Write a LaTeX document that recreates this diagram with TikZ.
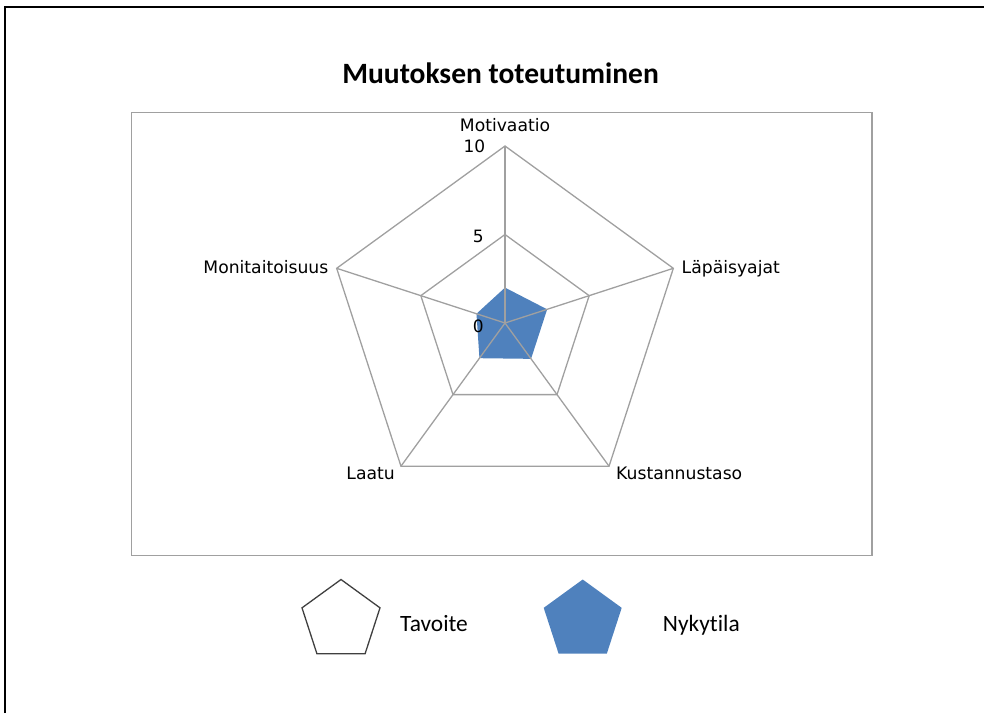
\documentclass[tikz,border=0pt]{standalone}
\usepackage{fontspec}
\setmainfont{Carlito}[Ligatures=NoCommon]
\newfontfamily\axisfont{DejaVu Sans}
\usetikzlibrary{calc,shapes.geometric}
\definecolor{seriesblue}{HTML}{4F81BD}
\definecolor{gridgray}{HTML}{A0A0A0}
\definecolor{areagray}{HTML}{A0A0A0}
\definecolor{keyoutline}{HTML}{404040}
\begin{document}
\begin{tikzpicture}[x=1pt,y=-1pt,
  gridline/.style={draw=gridgray,line width=1.3pt,line join=miter},
  axislabel/.style={font=\axisfont\fontsize{17.2}{20}\selectfont,inner sep=0pt,text=black},
  ticklabel/.style={font=\axisfont\fontsize{17}{20}\selectfont,inner sep=0pt,anchor=east},
  charttitle/.style={font=\fontsize{29.5}{35}\selectfont\bfseries,inner sep=0pt,anchor=base},
  keytext/.style={font=\fontsize{23.4}{28}\selectfont,inner sep=0pt,anchor=base west},
  keyshape/.style={regular polygon,regular polygon sides=5,minimum size=82pt,inner sep=0pt}]
\useasboundingbox (0,0) rectangle (984,713);

% page frame and plot area
\draw[line width=1.6pt] (5,713) -- (5,7) -- (984,7);
\draw[areagray,line width=1.5pt] (131.5,112.5) rectangle (872,555.5);

% title
\node[charttitle] (title) at (500.5,83.3) {Muutoksen toteutuminen};

% radar geometry: centre, 10-ring and 5-ring vertices
\coordinate (c) at (505,323);
\foreach \ang/\id in {-90/mot,-18/lap,54/kus,126/laa,198/mon}{
  \coordinate (o\id) at ($(c)+(\ang:177)$);
  \coordinate (h\id) at ($(c)+(\ang:88.5)$);
}

% current state (Nykytila)
\fill[seriesblue] ($(c)+(-90:35.4)$) -- ($(c)+(-18:44.3)$) -- ($(c)+(54:44.3)$)
  -- ($(c)+(126:43.5)$) -- ($(c)+(198:30)$) -- cycle;

% grid rings and spokes
\draw[gridline] (omot) -- (olap) -- (okus) -- (olaa) -- (omon) -- cycle;
\draw[gridline] (hmot) -- (hlap) -- (hkus) -- (hlaa) -- (hmon) -- cycle;
\foreach \id in {mot,lap,kus,laa,mon}{
  \draw[gridline] (c) -- (o\id);
}

% category labels
\node[axislabel,anchor=base] (lmot) at (505,131.5) {Motivaatio};
\node[axislabel,anchor=base west] (llap) at (681.5,273.3) {Läpäisyajat};
\node[axislabel,anchor=base west] (lkus) at (616,479.3) {Kustannustaso};
\node[axislabel,anchor=base east] (llaa) at (395,479.3) {Laatu};
\node[axislabel,anchor=base east] (lmon) at (328.5,273.3) {Monitaitoisuus};

% scale labels
\node[ticklabel] (t10) at (485.5,146.7) {10};
\node[ticklabel] (t5) at (484,236.7) {5};
\node[ticklabel] (t0) at (484,326.7) {0};

% legend
\node[keyshape,draw=keyoutline,line width=1.3pt,fill=white] (keytav) at (341,620.5) {};
\node[keytext] (txttav) at (400,631.7) {Tavoite};
\node[keyshape,fill=seriesblue] (keynyk) at (582.7,620.5) {};
\node[keytext] (txtnyk) at (662.7,631.7) {Nykytila};
\end{tikzpicture}
\end{document}
